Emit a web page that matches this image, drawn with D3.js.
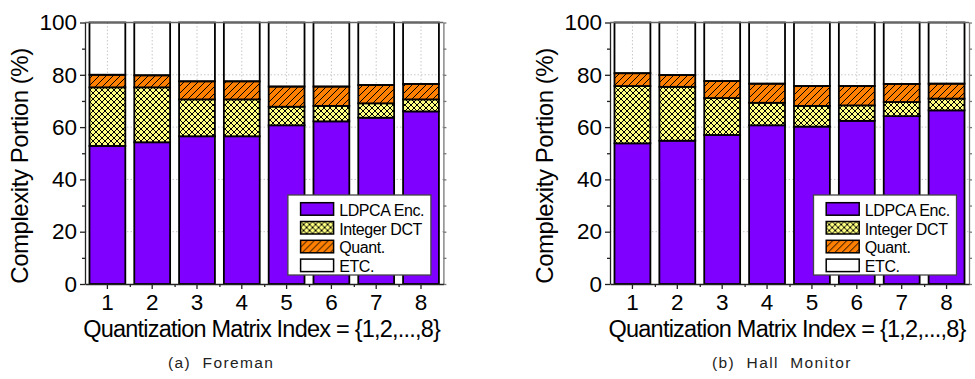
<!DOCTYPE html>
<html>
<head>
<meta charset="utf-8">
<script src="https://cdn.jsdelivr.net/npm/d3@7"></script>
<style>
  body { margin: 0; background: #fff; }
  svg { font-family: "Liberation Sans", Arial, sans-serif; }
</style>
</head>
<body>
<div id="chart"></div>
<script>
// categories and stack keys
let categories = [1, 2, 3, 4, 5, 6, 7, 8];
let keys = ['LDPCA Enc.', 'Integer DCT', 'Quant.', 'ETC.'];

// (a) Foreman, portions in %
let foremanLdpca = [52.8, 54.2, 56.5, 56.5, 60.7, 62.2, 63.6, 66.0];
let foremanDct   = [22.4, 21.0, 14.1, 14.1, 7.1, 5.9, 5.5, 4.6];
let foremanQuant = [4.8, 4.6, 6.9, 6.9, 7.7, 7.4, 7.0, 5.9];
let foremanEtc   = [20.0, 20.2, 22.5, 22.5, 24.5, 24.5, 23.9, 23.5];

// (b) Hall Monitor, portions in %
let hallLdpca = [53.8, 54.8, 57.0, 60.7, 60.2, 62.4, 64.2, 66.4];
let hallDct   = [21.9, 20.6, 14.1, 8.6, 7.9, 5.9, 5.4, 4.5];
let hallQuant = [4.9, 4.5, 6.5, 7.3, 7.6, 7.4, 6.9, 5.7];
let hallEtc   = [19.4, 20.1, 22.4, 23.4, 24.3, 24.3, 23.5, 23.4];

let yTicks = [0, 20, 40, 60, 80, 100];
let yMinor = [10, 30, 50, 70, 90];
let yGrid = [20, 40, 60, 80];

let width = 975, height = 379;
let plotTop = 22.5, plotBottom = 284;

let fills = {
  'LDPCA Enc.': '#7f00ff',
  'Integer DCT': 'url(#cross)',
  'Quant.': 'url(#diag)',
  'ETC.': 'none'
};
let swatchFills = Object.assign({}, fills, {'ETC.': '#fff'});

let panels = [
  {left: 85, right: 443.4, caption: '(a)  Foreman', capX: 168,
   series: [foremanLdpca, foremanDct, foremanQuant, foremanEtc]},
  {left: 610, right: 969, caption: '(b)  Hall  Monitor', capX: 712,
   series: [hallLdpca, hallDct, hallQuant, hallEtc]}
];

let svg = d3.select('#chart').append('svg')
    .attr('width', width)
    .attr('height', height);

let defs = svg.append('defs');

// yellow crosshatch
let cross = defs.append('pattern')
    .attr('id', 'cross')
    .attr('patternUnits', 'userSpaceOnUse')
    .attr('width', 6).attr('height', 6);
cross.append('rect').attr('width', 6).attr('height', 6).attr('fill', '#ffff80');
cross.append('path')
    .attr('d', 'M0,0L6,6M0,6L6,0')
    .attr('stroke', '#000').attr('stroke-width', 1);

// orange forward diagonals
let diag = defs.append('pattern')
    .attr('id', 'diag')
    .attr('patternUnits', 'userSpaceOnUse')
    .attr('width', 7).attr('height', 7);
diag.append('rect').attr('width', 7).attr('height', 7).attr('fill', '#ff8000');
diag.append('path')
    .attr('d', 'M0,7L7,0M-1,1L1,-1M6,8L8,6')
    .attr('stroke', '#000').attr('stroke-width', 1);

let y = d3.scaleLinear().domain([0, 100]).range([plotBottom, plotTop]);

// squeeze a text to a given width with letter-spacing
function fitWidth(sel, w) {
  let node = sel.node();
  let n = node.getNumberOfChars();
  let natural = node.getComputedTextLength();
  sel.attr('letter-spacing', (w - natural) / n);
}

function drawPanel(p) {
  let x = d3.scaleBand()
      .domain(categories)
      .range([p.left, p.right])
      .paddingInner(0.2)
      .paddingOuter(0.1);
  let xEdge = d3.scaleLinear().domain([0, categories.length]).range([p.left, p.right]);

  let rows = categories.map((c, i) => {
    let r = {cat: c};
    keys.forEach((k, j) => r[k] = p.series[j][i]);
    return r;
  });
  let stacked = d3.stack().keys(keys)(rows);

  let g = svg.append('g');

  // grid
  g.selectAll('.hgrid').data(yGrid).enter().append('line')
      .attr('x1', p.left).attr('x2', p.right)
      .attr('y1', d => y(d)).attr('y2', d => y(d))
      .attr('stroke', '#c8c8c8').attr('stroke-dasharray', '1.5,2');
  g.selectAll('.vgrid').data(categories).enter().append('line')
      .attr('x1', d => x(d) + x.bandwidth() / 2).attr('x2', d => x(d) + x.bandwidth() / 2)
      .attr('y1', plotTop).attr('y2', plotBottom)
      .attr('stroke', '#c8c8c8').attr('stroke-dasharray', '1.5,2');

  // bars
  g.selectAll('.layer').data(stacked).enter().append('g')
      .attr('fill', d => fills[d.key])
    .selectAll('rect').data(d => d).enter().append('rect')
      .attr('x', d => x(d.data.cat))
      .attr('width', x.bandwidth())
      .attr('y', d => y(d[1]))
      .attr('height', d => y(d[0]) - y(d[1]))
      .attr('stroke', '#000')
      .attr('stroke-width', 1.8);

  // frame top / right
  g.append('line')
      .attr('x1', p.left).attr('x2', p.right)
      .attr('y1', plotTop).attr('y2', plotTop)
      .attr('stroke', '#666').attr('stroke-width', 1.5);
  let right = g.append('g')
      .attr('transform', 'translate(' + p.right + ',0)')
      .call(d3.axisRight(y).tickValues(yTicks.concat(yMinor)).tickSize(3).tickSizeOuter(0).tickFormat(''));

  // left axis
  let left = g.append('g')
      .attr('transform', 'translate(' + p.left + ',0)')
      .call(d3.axisLeft(y).tickValues(yTicks).tickSize(5).tickSizeOuter(0).tickPadding(3));
  g.append('g')
      .attr('transform', 'translate(' + p.left + ',0)')
      .call(d3.axisLeft(y).tickValues(yMinor).tickSize(3).tickSizeOuter(0).tickFormat(''))
      .select('.domain').remove();

  // bottom axis
  let bot = g.append('g')
      .attr('transform', 'translate(0,' + plotBottom + ')')
      .call(d3.axisBottom(x).tickSize(5).tickSizeOuter(0).tickPadding(5));
  g.append('g')
      .attr('transform', 'translate(0,' + plotBottom + ')')
      .call(d3.axisBottom(xEdge).tickValues(d3.range(1, categories.length)).tickSize(3).tickSizeOuter(0).tickFormat(''))
      .select('.domain').remove();

  g.selectAll('.tick line, .domain').attr('stroke', '#222').attr('stroke-width', 1.3);
  right.selectAll('path, line').attr('stroke', '#777');
  [left, bot].forEach(a => a.selectAll('text')
      .attr('font-size', 22.5)
      .attr('font-family', null)
      .attr('fill', '#000'));

  // titles
  let xt = g.append('text')
      .attr('x', (p.left + p.right) / 2 - 2.5)
      .attr('y', 337)
      .attr('text-anchor', 'middle')
      .attr('font-size', 23.5)
      .text('Quantization Matrix Index = {1,2,...,8}');
  fitWidth(xt, 357);

  g.append('text')
      .attr('transform', 'translate(' + (p.left - 57) + ',166) rotate(-90)')
      .attr('text-anchor', 'middle')
      .attr('font-size', 24)
      .attr('letter-spacing', -0.45)
      .text('Complexity Portion (%)');

  g.append('text')
      .attr('x', p.capX)
      .attr('y', 368)
      .attr('font-size', 15.5)
      .attr('letter-spacing', 1.4)
      .attr('fill', '#222')
      .style('white-space', 'pre')
      .text(p.caption);

  // legend
  let lg = g.append('g')
      .attr('transform', 'translate(' + (p.right - 12.5 - 143) + ',195)');
  lg.append('rect')
      .attr('width', 143).attr('height', 80)
      .attr('fill', '#fff')
      .attr('stroke', '#444').attr('stroke-width', 1.3);
  let item = lg.selectAll('.item').data(keys).enter().append('g')
      .attr('transform', (d, i) => 'translate(12.7,' + (7.7 + i * 18.8) + ')');
  item.append('rect')
      .attr('width', 33).attr('height', 12.5)
      .attr('fill', d => swatchFills[d])
      .attr('stroke', '#000').attr('stroke-width', 1.5);
  item.append('text')
      .attr('x', 38.6).attr('y', 13)
      .attr('font-size', 16)
      .attr('letter-spacing', -0.4)
      .text(d => d);
}

panels.forEach(drawPanel);
</script>
</body>
</html>
